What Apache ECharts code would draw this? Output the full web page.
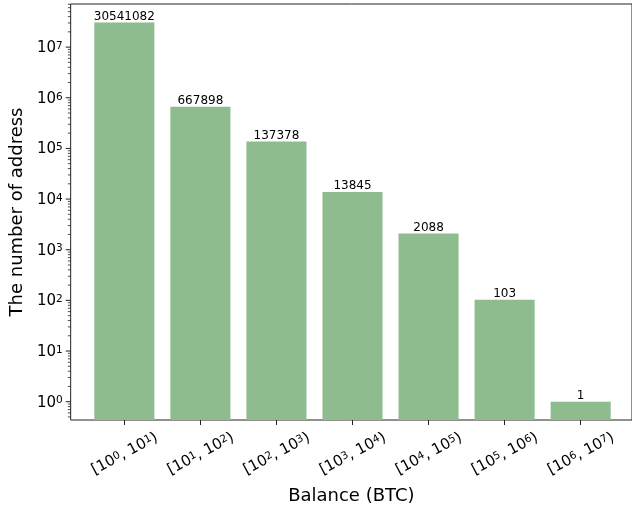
<!DOCTYPE html>
<html>
<head>
<meta charset="utf-8">
<script src="https://cdn.jsdelivr.net/npm/echarts@6/dist/echarts.min.js"></script>
<style>
  html, body { margin: 0; padding: 0; background: #fff; }
  #chart { width: 632px; height: 510px; }
</style>
</head>
<body>
<div id="chart"></div>
<script>
// Address counts per BTC balance bucket
const categories = ['[10^0, 10^1)', '[10^1, 10^2)', '[10^2, 10^3)', '[10^3, 10^4)',
                    '[10^4, 10^5)', '[10^5, 10^6)', '[10^6, 10^7)'];
const addressCounts = [30541082, 667898, 137378, 13845, 2088, 103, 1];

// Log axis range and its decades
const Y_MIN = 0.435;
const Y_MAX = 7.1e7;
const majorExponents = [0, 1, 2, 3, 4, 5, 6, 7];
const minorExponents = [-1, 0, 1, 2, 3, 4, 5, 6, 7];
const minorMultipliers = [2, 3, 4, 5, 6, 7, 8, 9];

const FONT = 'DejaVu Sans';
const BAR_COLOR = '#8fbc8f';

// tick marks for the log axis: [x, value, isMajor]
const yTicks = [];
majorExponents.forEach(e => yTicks.push([0, Math.pow(10, e), 1]));
minorExponents.forEach(e => minorMultipliers.forEach(m => {
  const v = m * Math.pow(10, e);
  if (v >= Y_MIN && v <= Y_MAX) yTicks.push([0, v, 0]);
}));

// base text and raised exponent
const supRich = {
  b: { fontSize: 15, fontFamily: FONT, color: '#000', lineHeight: 17, verticalAlign: 'bottom' },
  sup: { fontSize: 10.5, fontFamily: FONT, color: '#000', lineHeight: 17, verticalAlign: 'bottom', padding: [0, 0, 4, 0] }
};

function powerLabel(text) {
  // "[10^0, 10^1)" -> rich text with raised exponents
  return text.split(/(10\^\d+)/).filter(s => s.length).map(s => {
    const m = s.match(/^10\^(\d+)$/);
    return m ? '{b|10}{sup|' + m[1] + '}' : '{b|' + s + '}';
  }).join('');
}

const chart = echarts.init(document.getElementById('chart'), null, { renderer: 'canvas' });

chart.setOption({
  animation: false,
  backgroundColor: '#fff',
  textStyle: { fontFamily: FONT },
  grid: [
    // frame
    { left: 68, right: -5, top: 4, bottom: 90, show: true, borderColor: '#222', borderWidth: 1, containLabel: false },
    // bar area
    { left: 86.3, right: 13.3, top: 4, bottom: 90, containLabel: false }
  ],
  xAxis: [
    {
      gridIndex: 0, type: 'value', min: 0, max: 1,
      axisLine: { show: false }, axisTick: { show: false }, axisLabel: { show: false }, splitLine: { show: false },
      name: 'Balance (BTC)', nameLocation: 'middle', nameGap: 67,
      nameTextStyle: { fontSize: 18, fontFamily: FONT, color: '#000' }
    },
    {
      gridIndex: 1, type: 'category', data: categories,
      axisLine: { show: false },
      axisTick: { show: true, alignWithLabel: true, length: 5, lineStyle: { color: '#222', width: 1 } },
      axisLabel: {
        interval: 0, rotate: 28, align: 'center', verticalAlign: 'middle', margin: 33,
        fontSize: 15, fontFamily: FONT, color: '#000',
        formatter: powerLabel, rich: supRich
      },
      splitLine: { show: false }
    }
  ],
  yAxis: [
    {
      gridIndex: 0, type: 'log', logBase: 10, min: Y_MIN, max: Y_MAX,
      axisLine: { show: false }, axisTick: { show: false }, splitLine: { show: false },
      axisLabel: {
        margin: 8, fontSize: 15, fontFamily: FONT, color: '#000',
        formatter: function (v) {
          const e = Math.log10(v);
          const r = Math.round(e);
          if (Math.abs(e - r) > 1e-6) return '';
          return '{b|10}{sup|' + r + '}';
        },
        rich: supRich
      },
      name: 'The number of address', nameLocation: 'middle', nameGap: 44,
      nameTextStyle: { fontSize: 18, fontFamily: FONT, color: '#000' }
    },
    {
      gridIndex: 1, type: 'log', logBase: 10, min: Y_MIN, max: Y_MAX, startValue: Y_MIN,
      show: false
    }
  ],
  series: [
    {
      type: 'bar',
      xAxisIndex: 1, yAxisIndex: 1,
      data: addressCounts,
      barWidth: '79%',
      itemStyle: { color: BAR_COLOR },
      label: {
        show: true, position: 'top', distance: 0,
        fontSize: 12, fontFamily: FONT, color: '#000',
        formatter: '{c}'
      },
      silent: true
    },
    {
      type: 'custom',
      xAxisIndex: 0, yAxisIndex: 0,
      data: yTicks,
      clip: false,
      silent: true,
      renderItem: function (params, api) {
        const y = api.coord([0, api.value(1)])[1];
        const x0 = params.coordSys.x;
        const major = api.value(2) === 1;
        const len = major ? 5 : 2.8;
        return {
          type: 'line',
          shape: { x1: x0 - len, y1: y, x2: x0, y2: y },
          style: { stroke: '#222', lineWidth: major ? 1 : 0.8 }
        };
      }
    }
  ]
});
</script>
</body>
</html>
